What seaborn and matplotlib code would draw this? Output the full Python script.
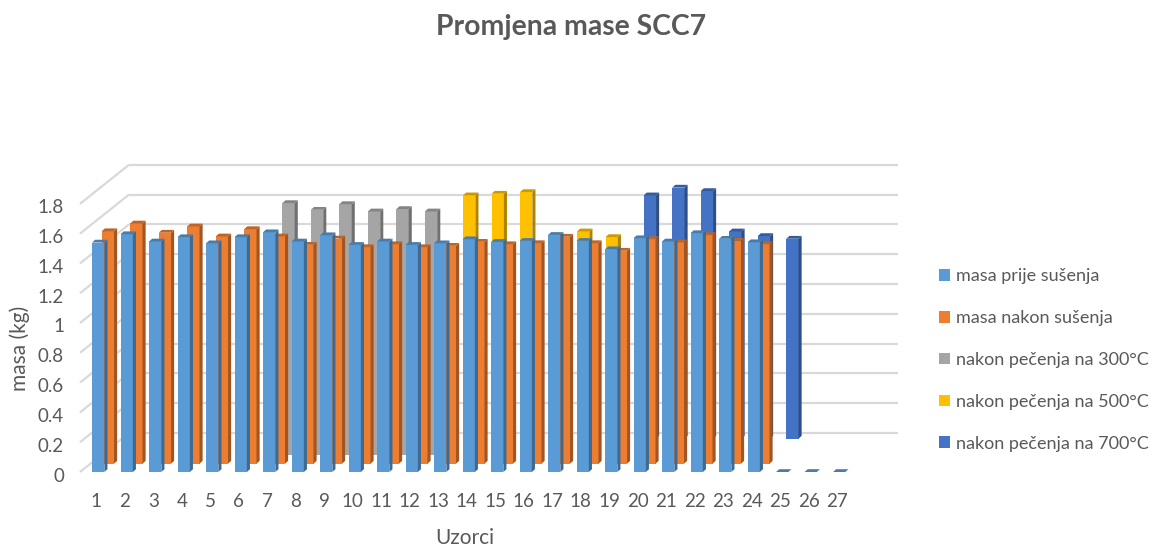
import numpy as np
import pandas as pd
import matplotlib
matplotlib.use("Agg")
import matplotlib.pyplot as plt
import seaborn as sns
from matplotlib.collections import PolyCollection
from matplotlib.patches import Patch
from matplotlib.transforms import Affine2D, ScaledTranslation

samples = list(range(1, 28))
nan = float("nan")
masa_prije = [1.540, 1.596, 1.547, 1.576, 1.535, 1.576, 1.609, 1.547, 1.589, 1.524, 1.547, 1.524, 1.535, 1.562,
              1.544, 1.551, 1.591, 1.551, 1.495, 1.569, 1.547, 1.603, 1.565, 1.542, 0, 0, 0]
masa_nakon = [1.560, 1.612, 1.550, 1.592, 1.525, 1.574, 1.525, 1.469, 1.511, 1.453, 1.473, 1.453, 1.462, 1.489,
              1.473, 1.480, 1.523, 1.480, 1.429, 1.507, 1.485, 1.534, 1.496, 1.473, nan, nan, nan]
nakon_300 = [nan] * 6 + [1.693, 1.648, 1.686, 1.637, 1.653, 1.637] + [nan] * 15
nakon_500 = [nan] * 12 + [1.689, 1.700, 1.711, nan, 1.447, 1.409] + [nan] * 9
nakon_700 = [nan] * 18 + [1.633, 1.685, 1.662, 1.391, 1.360, 1.342] + [nan] * 3
series_names = ["masa prije sušenja", "masa nakon sušenja", "nakon pečenja na 300°C",
                "nakon pečenja na 500°C", "nakon pečenja na 700°C"]
series_values = [masa_prije, masa_nakon, nakon_300, nakon_500, nakon_700]
colors = ["#5B9BD5", "#ED7D31", "#A5A5A5", "#FFC000", "#4472C4"]
y_ticks = [0, 0.2, 0.4, 0.6, 0.8, 1, 1.2, 1.4, 1.6, 1.8]
y_labels = ["0", "0.2", "0.4", "0.6", "0.8", "1", "1.2", "1.4", "1.6", "1.8"]

W, H = 1153, 549
TXT = "#595959"
sns.set_theme(style="white")
plt.rcParams["font.family"] = ["Lato", "DejaVu Sans"]

fig = plt.figure(figsize=(W / 100, H / 100), dpi=100, facecolor="white")
px_left, px_right, px_bottom, px_top = 80, 898, 472, 165
ax = fig.add_axes([px_left / W, 1 - px_bottom / H, (px_right - px_left) / W, (px_bottom - px_top) / H])

CAT_PX, VAL_PX = 28.5, 149.0
x0 = 98.2
bar_w = 12.3 / CAT_PX
step_x, step_y = 9.67 / CAT_PX, 8.33 / VAL_PX
side_x, side_y = 3.1 / CAT_PX, 2.8 / VAL_PX
wall_x, wall_y = 49 / CAT_PX, 39 / VAL_PX
xlim = ((px_left - x0) / CAT_PX, (px_right - x0) / CAT_PX)
ylim = (0, (px_bottom - px_top) / VAL_PX)


def shade(c, f):
    r = np.array(matplotlib.colors.to_rgb(c)) * f
    return tuple(r)


# back wall grid and side wall diagonals
for t in y_ticks:
    xb = xlim[0] + wall_x
    yb = t + wall_y
    ax.plot([xlim[0], xb], [t, yb], color="#D9D9D9", lw=1.6, zorder=1, clip_on=False, solid_capstyle="butt")
    ax.plot([xb, xlim[1]], [yb, yb], color="#D9D9D9", lw=1.6, zorder=1, clip_on=False, solid_capstyle="butt")

# bars, back series first
for depth in range(4, -1, -1):
    vals = series_values[depth]
    df = pd.DataFrame({"uzorak": samples, "masa": vals})
    n_before = len(ax.patches)
    z = 10 + (4 - depth) * 3
    sns.barplot(data=df, x="uzorak", y="masa", order=samples, color=colors[depth], saturation=1,
                width=bar_w, linewidth=0, ax=ax, zorder=z)
    dx, dy = depth * step_x, depth * step_y
    for p in ax.patches[n_before:]:
        p.set_transform(Affine2D().translate(dx, dy) + ax.transData)
        p.set_clip_on(False)
    side_polys, top_polys = [], []
    for i, v in enumerate(vals):
        if np.isnan(v):
            continue
        xl = i - bar_w / 2 + dx
        xr = i + bar_w / 2 + dx
        b = dy
        t = v + dy
        if v > 0:
            side_polys.append([(xr, b), (xr + side_x, b + side_y), (xr + side_x, t + side_y), (xr, t)])
        top_polys.append([(xl, t), (xr, t), (xr + side_x, t + side_y), (xl + side_x, t + side_y)])
    if side_polys:
        ax.add_collection(PolyCollection(side_polys, facecolors=[shade(colors[depth], 0.68)], edgecolors="none",
                                         zorder=z + 1, clip_on=False), autolim=False)
    ax.add_collection(PolyCollection(top_polys, facecolors=[shade(colors[depth], 0.8)], edgecolors="none",
                                     zorder=z + 1, clip_on=False), autolim=False)

ax.set_xlim(*xlim)
ax.set_ylim(*ylim)
for s in ax.spines.values():
    s.set_visible(False)
ax.set_facecolor("none")
ax.set_xticks(np.arange(len(samples)) - 0.07)
ax.set_xticklabels([str(s) for s in samples])
ax.set_yticks(y_ticks)
ax.set_yticklabels(y_labels)
ax.tick_params(axis="x", length=0, pad=15, labelsize=13.5, labelcolor=TXT)
ax.tick_params(axis="y", length=0, pad=11.5, labelsize=13.5, labelcolor=TXT)
ax.set_xlabel("")
ax.set_ylabel("")
down = ScaledTranslation(0, -2.5 / 100, fig.dpi_scale_trans)
for lab in ax.get_yticklabels():
    lab.set_transform(lab.get_transform() + down)

fig.text(571 / W, 1 - 27 / H, "Promjena mase SCC7", ha="center", va="center", fontsize=20.4, fontweight="bold",
         color=TXT)
fig.text(20 / W, 1 - 348 / H, "masa (kg)", ha="center", va="center", rotation=90, fontsize=15, color=TXT)
fig.text(465 / W, 1 - 538 / H, "Uzorci", ha="center", va="center", fontsize=15, color=TXT)

handles = [Patch(facecolor=c, edgecolor="none", label=n) for c, n in zip(colors, series_names)]
leg = fig.legend(handles=handles, loc="center left", bbox_to_anchor=(939 / W, 1 - 360 / H), frameon=False,
                 fontsize=13, labelcolor=TXT, handlelength=0.62, handleheight=0.62, handletextpad=0.3,
                 labelspacing=1.43, borderpad=0, borderaxespad=0)

fig.savefig("out.png", dpi=100)
